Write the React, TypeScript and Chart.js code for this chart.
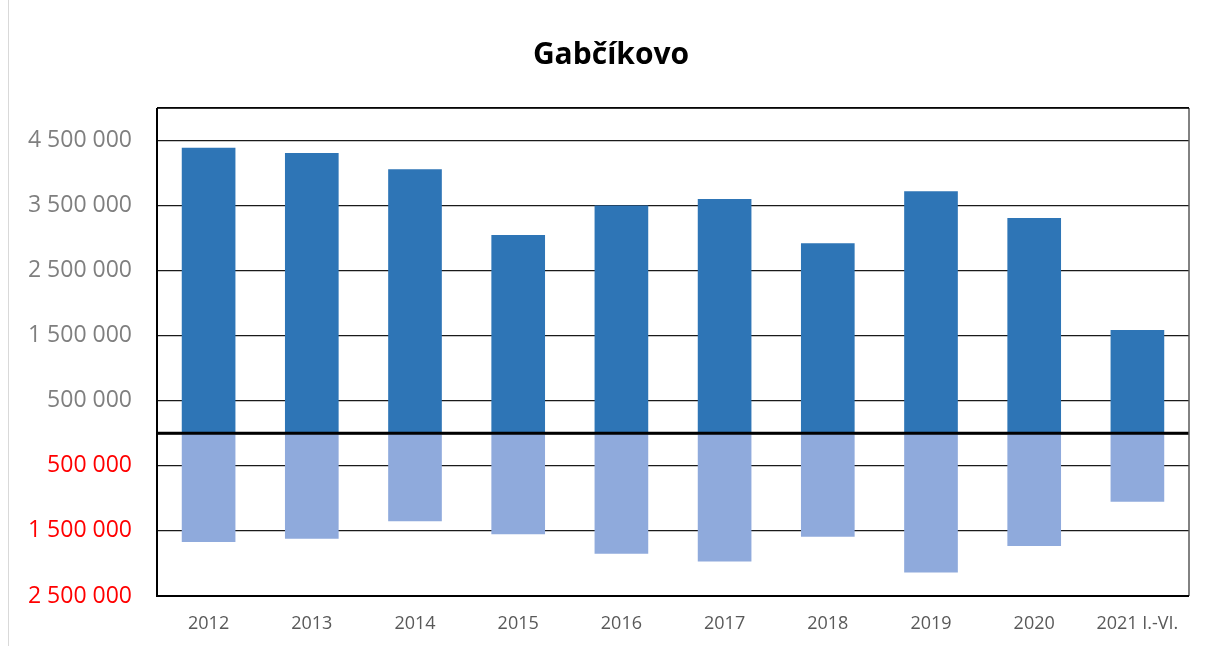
import React, { useEffect, useRef } from 'react';
import { Chart, registerables } from 'chart.js';

Chart.register(...registerables);

const title = 'Gabčíkovo';
const categories = ['2012', '2013', '2014', '2015', '2016', '2017', '2018', '2019', '2020', '2021 I.-VI.'];
const positiveValues = [4390000, 4310000, 4060000, 3050000, 3500000, 3600000, 2920000, 3720000, 3310000, 1590000];
const negativeValues = [-1670000, -1620000, -1350000, -1550000, -1850000, -1970000, -1590000, -2140000, -1730000, -1050000];
const yTickValues = [-2500000, -1500000, -500000, 0, 500000, 1500000, 2500000, 3500000, 4500000, 5000000];
const yHiddenLabels = [0, 5000000];

const FONT = '"Open Sans", "DejaVu Sans", sans-serif';

function formatNumber(v: number): string {
  const s = Math.abs(Math.round(v)).toString();
  return s.replace(/\B(?=(\d{3})+(?!\d))/g, ' ');
}

const decorPlugin = {
  id: 'decor',
  beforeDraw(chart: any) {
    const ctx = chart.ctx;
    ctx.save();
    ctx.fillStyle = '#ffffff';
    ctx.fillRect(0, 0, chart.width, chart.height);
    ctx.strokeStyle = '#d9d9d9';
    ctx.lineWidth = 1;
    ctx.beginPath();
    ctx.moveTo(8.5, 0);
    ctx.lineTo(8.5, chart.height);
    ctx.stroke();
    ctx.fillStyle = '#000000';
    ctx.font = `bold 30px ${FONT}`;
    ctx.textAlign = 'center';
    ctx.textBaseline = 'middle';
    ctx.fillText(title, 611, 55);
    ctx.restore();
  },
  afterDatasetsDraw(chart: any) {
    const ctx = chart.ctx;
    const { left, right, top, bottom } = chart.chartArea;
    const y0 = chart.scales.y.getPixelForValue(0);
    ctx.save();
    ctx.strokeStyle = '#000000';
    ctx.lineWidth = 3;
    ctx.beginPath();
    ctx.moveTo(left, y0);
    ctx.lineTo(right, y0);
    ctx.stroke();
    ctx.lineWidth = 1.5;
    ctx.strokeStyle = '#595959';
    ctx.beginPath();
    ctx.moveTo(right, top);
    ctx.lineTo(right, bottom);
    ctx.stroke();
    ctx.strokeStyle = '#000000';
    ctx.lineWidth = 1.5;
    ctx.beginPath();
    ctx.moveTo(left, top);
    ctx.lineTo(right, top);
    ctx.stroke();
    ctx.lineWidth = 2;
    ctx.beginPath();
    ctx.moveTo(left, top);
    ctx.lineTo(left, bottom);
    ctx.lineTo(right, bottom);
    ctx.stroke();
    ctx.restore();
  },
};

export default function App() {
  const ref = useRef<HTMLCanvasElement | null>(null);

  useEffect(() => {
    if (!ref.current) return;
    const chart = new Chart(ref.current, {
      type: 'bar',
      data: {
        labels: categories,
        datasets: [
          {
            label: 'positive',
            data: positiveValues,
            backgroundColor: '#2E75B6',
            borderWidth: 0,
            barPercentage: 0.52,
            categoryPercentage: 1,
          },
          {
            label: 'negative',
            data: negativeValues,
            backgroundColor: '#8FAADC',
            borderWidth: 0,
            barPercentage: 0.52,
            categoryPercentage: 1,
          },
        ],
      },
      options: {
        responsive: false,
        maintainAspectRatio: false,
        animation: false,
        layout: { padding: { left: 0, right: 25, top: 108, bottom: 0 } },
        plugins: {
          legend: { display: false },
          title: { display: false },
          tooltip: { enabled: false },
        },
        scales: {
          x: {
            stacked: true,
            grid: { display: false, drawTicks: false },
            border: { display: false },
            ticks: {
              color: '#595959',
              font: { family: FONT, size: 18 },
              padding: 17,
              maxRotation: 0,
              autoSkip: false,
            },
            afterFit(scale: any) {
              scale.height = 50;
            },
          },
          y: {
            stacked: true,
            min: -2500000,
            max: 5000000,
            afterBuildTicks(scale: any) {
              scale.ticks = yTickValues.map((v) => ({ value: v }));
            },
            afterFit(scale: any) {
              scale.width = 157;
            },
            grid: {
              color: '#1a1a1a',
              lineWidth: 1.2,
              drawTicks: false,
            },
            border: { display: false },
            ticks: {
              padding: 25,
              font: { family: FONT, size: 23 },
              color: (c: any) => (c.tick && c.tick.value < 0 ? '#FF0000' : '#7F7F7F'),
              callback: (v: any) => (yHiddenLabels.includes(Number(v)) ? '' : formatNumber(Number(v))),
            },
          },
        },
      },
      plugins: [decorPlugin],
    } as any);
    return () => chart.destroy();
  }, []);

  return (
    <div style={{ position: 'fixed', left: 0, top: 0, width: 1214, height: 646, background: '#fff' }}>
      <canvas ref={ref} width={1214} height={646} style={{ width: 1214, height: 646, display: 'block' }} />
    </div>
  );
}
